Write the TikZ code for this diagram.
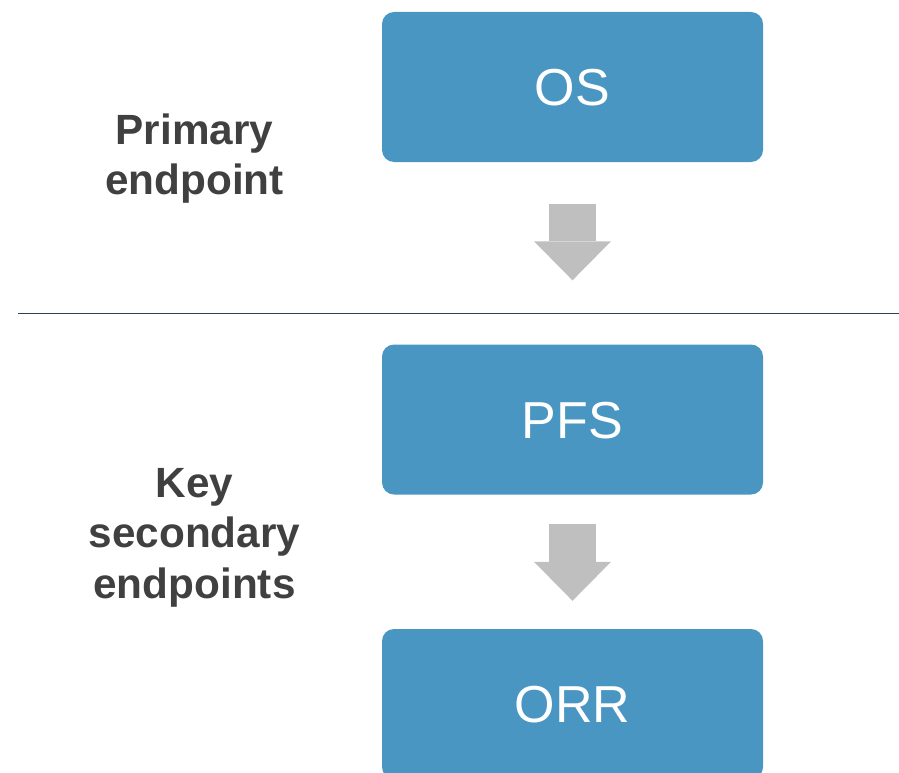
\documentclass[tikz,border=0pt]{standalone}
\usepackage{fontspec}
\setmainfont{Liberation Sans}
\usetikzlibrary{arrows.meta}

\definecolor{boxblue}{HTML}{4A96C3}
\definecolor{arrowgray}{HTML}{BFBFBF}
\definecolor{labelgray}{HTML}{404040}
\definecolor{rulecolor}{HTML}{2C4257}

\tikzset{
  endpointbox/.style={fill=boxblue, rounded corners=12pt, minimum width=381pt,
    minimum height=150pt, inner sep=0pt, text=white, text height=37pt,
    text depth=0pt, font=\fontsize{52}{60}\selectfont},
  grouplabel/.style={align=center, inner sep=0pt, text=labelgray,
    font=\fontsize{42.3}{50.5}\selectfont\bfseries},
  blockarrow/.style={draw=arrowgray, line width=47pt,
    -{Triangle[width=77pt,length=39pt,line width=0pt]}}
}

\begin{document}
\begin{tikzpicture}[x=1pt,y=-1pt]

\useasboundingbox (0,0) rectangle (899,773);
\clip (0,0) rectangle (899,773);

%% boxes
\node[endpointbox] (os)  at (572.5,87)  {OS};
\node[endpointbox] (pfs) at (572.5,419.5) {PFS};
\node[endpointbox] (orr) at (572.5,704) {ORR};

%% labels on the left
\node[grouplabel] (primary)   at (194.5,158.5) {Primary\\endpoint};
\node[grouplabel] (secondary) at (194.5,537.5) {Key\\secondary\\endpoints};

%% separator
\coordinate (ruleL) at (18,313.5);
\coordinate (ruleR) at (899,313.5);
\draw[rulecolor, line width=1.4pt] (ruleL) -- (ruleR);

%% arrows
\draw[blockarrow, shorten <=42pt, shorten >=64pt] (os.south) -- (pfs.north);
\draw[blockarrow, shorten <=29pt, shorten >=28pt] (pfs.south) -- (orr.north);

\end{tikzpicture}
\end{document}
